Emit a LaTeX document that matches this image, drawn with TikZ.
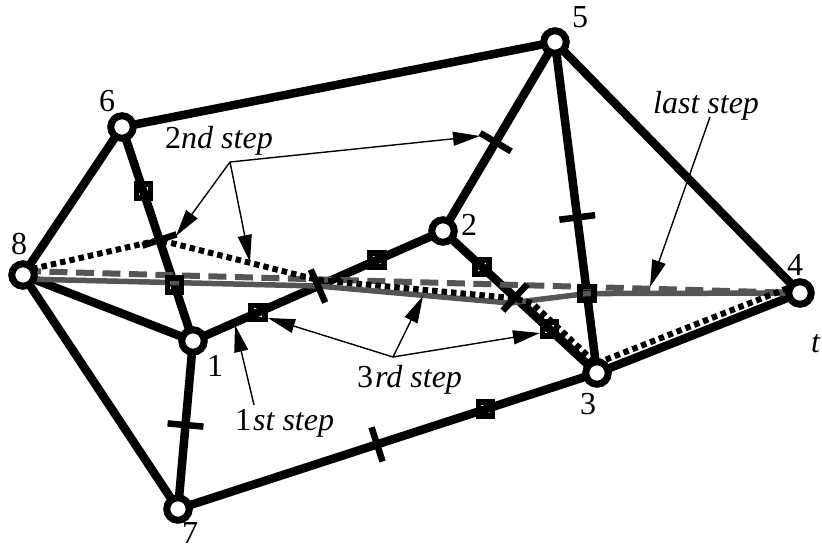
\documentclass[tikz,border=0pt]{standalone}
\usepackage{fontspec}
\setmainfont{Liberation Serif}
\usetikzlibrary{arrows.meta,calc}
\pgfdeclarelayer{edges}
\pgfdeclarelayer{routes}
\pgfsetlayers{edges,routes,main}
\definecolor{routegray}{RGB}{85,85,85}
\begin{document}
\begin{tikzpicture}[x=1pt,y=-1pt,
  vertex/.style={circle,draw=black,fill=white,line width=7pt,minimum size=22.5pt,inner sep=0pt},
  link/.style={line width=8.5pt,black},
  num/.style={font=\fontsize{32}{38}\selectfont,inner sep=0pt},
  note/.style={font=\fontsize{32}{38}\selectfont,inner sep=0pt,anchor=base west},
  sqmark/.style={rectangle,draw=black,line width=5.5pt,minimum size=14pt,inner sep=0pt},
  tickmark/.style={rectangle,fill=black,minimum width=6.5pt,minimum height=36pt,inner sep=0pt,sloped},
  solidroute/.style={line width=5.5pt,routegray},
  dashroute/.style={line width=6pt,routegray,dash pattern=on 18pt off 8.5pt},
  dotroute/.style={line width=6pt,black,dash pattern=on 5.5pt off 4pt},
  pointer/.style={line width=1.4pt,-{Triangle[length=27pt,width=14pt]}}
]
\useasboundingbox (0,0) rectangle (822,550);

% graph vertices
\node[vertex] (v1) at (193,341) {};
\node[vertex] (v2) at (443,231) {};
\node[vertex] (v3) at (597,373) {};
\node[vertex] (v4) at (800,293) {};
\node[vertex] (v5) at (555,42) {};
\node[vertex] (v6) at (122,127) {};
\node[vertex] (v7) at (178,509) {};
\node[vertex] (v8) at (23,275) {};

% vertex numbers
\node[num] (l1) at (215,366) {1};
\node[num] (l2) at (469,225) {2};
\node[num] (l3) at (588,404) {3};
\node[num] (l4) at (795,265) {4};
\node[num] (l5) at (580,17) {5};
\node[num] (l6) at (107,101) {6};
\node[num] (l7) at (190,533) {7};
\node[num] (l8) at (19,244) {8};
\node[note] (lt) at (811,352) {\textit{t}};

% marks on the edges
\path (v6.center) -- node[sqmark,pos=0.30] (s61a) {}
                     node[tickmark,pos=0.528] (t61) {}
                     node[sqmark,pos=0.738] (s61b) {} (v1.center);
\path (v1.center) -- node[sqmark,pos=0.26] (s12a) {}
                     node[tickmark,pos=0.5] (t12) {}
                     node[sqmark,pos=0.736] (s12b) {} (v2.center);
\path (v2.center) -- node[sqmark,pos=0.253] (s23a) {}
                     node[tickmark,pos=0.468] (t23) {}
                     node[sqmark,pos=0.69] (s23b) {} (v3.center);
\path (v5.center) -- node[tickmark,pos=0.53] (t52) {} (v2.center);
\path (v5.center) -- node[tickmark,pos=0.53] (t53) {}
                     node[sqmark,pos=0.76] (s53) {} (v3.center);
\path (v1.center) -- node[tickmark,pos=0.5] (t17) {} (v7.center);
\path (v7.center) -- node[tickmark,pos=0.475] (t73) {}
                     node[sqmark,pos=0.734] (s73) {} (v3.center);

% graph edges
\begin{pgfonlayer}{edges}
\foreach \a/\b in {8/6,6/5,5/4,5/2,5/3,2/1,2/3,1/6,1/8,1/7,8/7,7/3,3/4}
  \draw[link] (v\a.center) -- (v\b.center);
\end{pgfonlayer}

% routes from 8 to 4
\coordinate (d8) at (23,271);
\coordinate (g8) at (23,279);
\coordinate (gbend) at (510,303);
\coordinate (p1) at (318,280);
\coordinate (p2) at (512,298);
\coordinate (p3) at (532,303);
\coordinate (p4) at (596,363.5);
\coordinate (p5) at (797,284.5);
\begin{pgfonlayer}{routes}
\draw[solidroute] (g8) -- (t12.center) -- (gbend) -- (s53.center) -- (v4.center);
\draw[dashroute] (d8) -- (v4.center);
\draw[dotroute] (d8) -- (t61.center) -- (p1) -- (p2) -- (p3) -- (p4) -- (p5);
\end{pgfonlayer}

% step annotations
\node[note] (n2) at (165,148) {2\textit{nd step}};
\node[note] (n3) at (357,387) {3\kern2pt\textit{rd step}};
\node[note] (n1) at (235,430) {1\kern2pt\textit{st step}};
\node[note] (nl) at (653,113) {\textit{last step}};

\coordinate (b2) at (230,162);
\coordinate (a2a) at (480,136);
\coordinate (a2b) at (176,236);
\coordinate (a2c) at (250,262);
\draw[pointer] (b2) -- (a2a);
\draw[pointer] (b2) -- (a2b);
\draw[pointer] (b2) -- (a2c);

\coordinate (b3) at (393,357);
\coordinate (a3a) at (268,318);
\coordinate (a3b) at (423,296);
\coordinate (a3c) at (540,333);
\draw[pointer] (b3) -- (a3a);
\draw[pointer] (b3) -- (a3b);
\draw[pointer] (b3) -- (a3c);

\coordinate (b1) at (254,405);
\coordinate (a1) at (235,325);
\draw[pointer] (b1) -- (a1);

\coordinate (bl) at (710,117);
\coordinate (al) at (650,287);
\draw[pointer] (bl) -- (al);
\end{tikzpicture}
\end{document}
